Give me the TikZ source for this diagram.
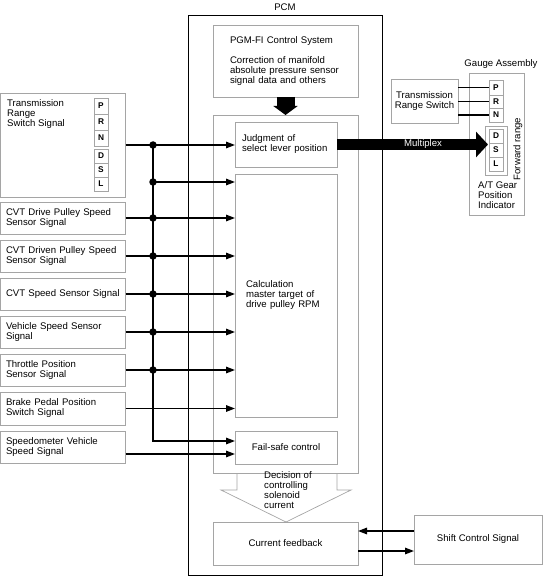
\documentclass[tikz,border=0pt]{standalone}
\usepackage{fontspec}
\setmainfont{Liberation Sans}
\usetikzlibrary{arrows.meta,calc}
\definecolor{boxgray}{RGB}{165,165,165}
\begin{document}
\begin{tikzpicture}[x=1pt,y=-1pt,
  gbox/.style={draw=boxgray, line width=0.8pt, inner sep=0pt, outer sep=0pt},
  txt/.style={font=\fontsize{9.6}{10}\selectfont},
  sig/.style={line width=1.4pt, -{Triangle[length=9pt,width=6.5pt]}},
  wire/.style={line width=1.4pt},
  jdot/.style={circle, fill=black, inner sep=0pt, minimum size=7.5pt},
  letter/.style={gbox, minimum width=14pt, anchor=north west, font=\bfseries\fontsize{8.3}{8}\selectfont},
  lbox/.style={gbox, txt, anchor=north west, minimum width=125pt, minimum height=32pt, inner xsep=5.5pt, text width=114pt, align=left},
  plain/.style={txt, inner sep=0pt, align=left},
]
\useasboundingbox (0,0) rectangle (542,577);

% ---- PCM ----
\node[draw, line width=1.3pt, minimum width=194pt, minimum height=560pt, anchor=north west, inner sep=0pt] (pcm) at (188,15) {};
\node[txt] (pcmlbl) at (285,7) {PCM};

\node[gbox, txt, anchor=north west, minimum width=145pt, minimum height=72pt, inner xsep=17pt, text width=111pt, align=left] (pgm) at (213,25)
  {PGM-FI Control System\\[10pt]Correction of manifold\\absolute pressure sensor\\signal data and others};
\node[gbox, anchor=north west, minimum width=145pt, minimum height=358pt] (inner) at (213,115) {};
\node[gbox, txt, anchor=north west, minimum width=102pt, minimum height=45pt, inner xsep=7pt, text width=88pt, align=left] (judg) at (235,122)
  {Judgment of\\select lever position};
\node[gbox, txt, anchor=north west, minimum width=102pt, minimum height=243pt, inner xsep=11pt, text width=80pt, align=left] (calc) at (235,174)
  {Calculation\\master target of\\drive pulley RPM};
\node[gbox, txt, anchor=north west, minimum width=102pt, minimum height=33pt] (fs) at (235,431) {Fail-safe control};
\node[gbox, txt, anchor=north west, minimum width=145pt, minimum height=43pt] (cf) at (213,522) {Current feedback};

% down arrow
\draw[line width=18pt, -{Triangle[length=9pt,width=24pt]}] (pgm.south) -- (inner.north);

% hollow arrow
\draw[boxgray, line width=0.7pt] (237,473) -- (237,490) -- (221,490) -- (286,522) -- (351,490) -- (337,490) -- (337,473);
\node[plain, anchor=north west] (declbl) at (264,471) {Decision of\\controlling\\solenoid\\current};

% ---- left inputs ----
\node[gbox, anchor=north west, minimum width=125pt, minimum height=104pt] (trs) at (0.5,93) {};
\node[plain, anchor=north west] (trslbl) at (7,99) {Transmission\\Range\\Switch Signal};
\node[letter, minimum height=16pt] (lp) at (94,98) {P};
\node[letter, minimum height=16pt] (lr) at (94,114) {R};
\node[letter, minimum height=16pt] (ln) at (94,130) {N};
\node[letter, minimum height=14pt] (ld) at (94,149) {D};
\node[letter, minimum height=14pt] (ls) at (94,163) {S};
\node[letter, minimum height=14pt] (ll) at (94,177) {L};

\node[lbox] (s1) at (0.5,202) {CVT Drive Pulley Speed\\Sensor Signal};
\node[lbox] (s2) at (0.5,240) {CVT Driven Pulley Speed\\Sensor Signal};
\node[lbox] (s3) at (0.5,278) {CVT Speed Sensor Signal};
\node[lbox] (s4) at (0.5,316) {Vehicle Speed Sensor\\Signal};
\node[lbox] (s5) at (0.5,354) {Throttle Position\\Sensor Signal};
\node[lbox, minimum height=33pt] (s6) at (0.5,392) {Brake Pedal Position\\Switch Signal};
\node[lbox] (s7) at (0.5,431) {Speedometer Vehicle\\Speed Signal};

% bus
\coordinate (busx) at (153,0);
\coordinate (b0) at (trs.east -| busx);
\coordinate (b1) at (153,182);
\coordinate (bend) at ([yshift=6.5pt]fs.west -| busx);
\draw[sig] (trs.east) -- (trs.east -| judg.west);
\draw[sig, line join=miter] (b0) -- (bend) -- ([yshift=6.5pt]fs.west);
\draw[sig] (b1) -- (b1 -| calc.west);
\draw[sig] (s1.east) -- (s1.east -| calc.west);
\draw[sig] (s2.east) -- (s2.east -| calc.west);
\draw[sig] (s3.east) -- (s3.east -| calc.west);
\draw[sig] (s4.east) -- (s4.east -| calc.west);
\draw[sig] (s5.east) -- (s5.east -| calc.west);
\draw[sig] (s6.east) -- (s6.east -| calc.west);
\draw[sig] ([yshift=-7pt]s7.east) -- ([yshift=-7pt]s7.east -| fs.west);
\node[jdot] (d0) at (b0) {};
\node[jdot] (d1) at (b1) {};
\node[jdot] (d2) at (s1.east -| busx) {};
\node[jdot] (d3) at (s2.east -| busx) {};
\node[jdot] (d4) at (s3.east -| busx) {};
\node[jdot] (d5) at (s4.east -| busx) {};
\node[jdot] (d6) at (s5.east -| busx) {};

% ---- gauge assembly ----
\node[gbox, anchor=north west, minimum width=55pt, minimum height=142pt] (gauge) at (469,73) {};
\node[txt, anchor=south, inner sep=0pt] (gaugelbl) at (501,69) {Gauge Assembly};
\node[gbox, txt, anchor=north west, minimum width=67pt, minimum height=44pt, align=center] (trs2) at (391,79) {Transmission\\Range Switch};
\node[letter, minimum height=15pt] (gp) at (489,80) {P};
\node[letter, minimum height=13pt] (gr) at (489,95) {R};
\node[letter, minimum height=14pt] (gn) at (489,108) {N};
\draw[wire] (trs2.east |- gp.west) -- (gp.west);
\draw[wire] (trs2.east |- gr.west) -- (gr.west);
\draw[wire] (trs2.east |- gn.west) -- (gn.west);
\node[gbox, anchor=north west, minimum width=22pt, minimum height=49pt] (dsl) at (485,126) {};
\node[letter, minimum height=14pt] (gd) at (489,129) {D};
\node[letter, minimum height=14pt] (gs) at (489,143) {S};
\node[letter, minimum height=14pt] (gl) at (489,157) {L};
\node[txt, rotate=90] (fwd) at (518,149) {Forward range};
\node[plain, anchor=north west] (atlbl) at (478,181) {A/T Gear\\Position\\Indicator};

% multiplex
\draw[line width=11pt, -{Triangle[length=12pt,width=25pt]}] (judg.east) -- ([xshift=3pt]judg.east -| dsl.west)
  node[pos=0.57, txt, text=white] (mux) {Multiplex};

% ---- shift control ----
\node[gbox, txt, anchor=north west, minimum width=128pt, minimum height=49pt] (shift) at (414,515) {Shift Control Signal};
\draw[sig] ([yshift=8.5pt]shift.west) -- ([yshift=8.5pt]shift.west -| cf.east);
\draw[sig] ([yshift=-7.5pt]cf.east) -- ([yshift=-7.5pt]cf.east -| shift.west);
\end{tikzpicture}
\end{document}
